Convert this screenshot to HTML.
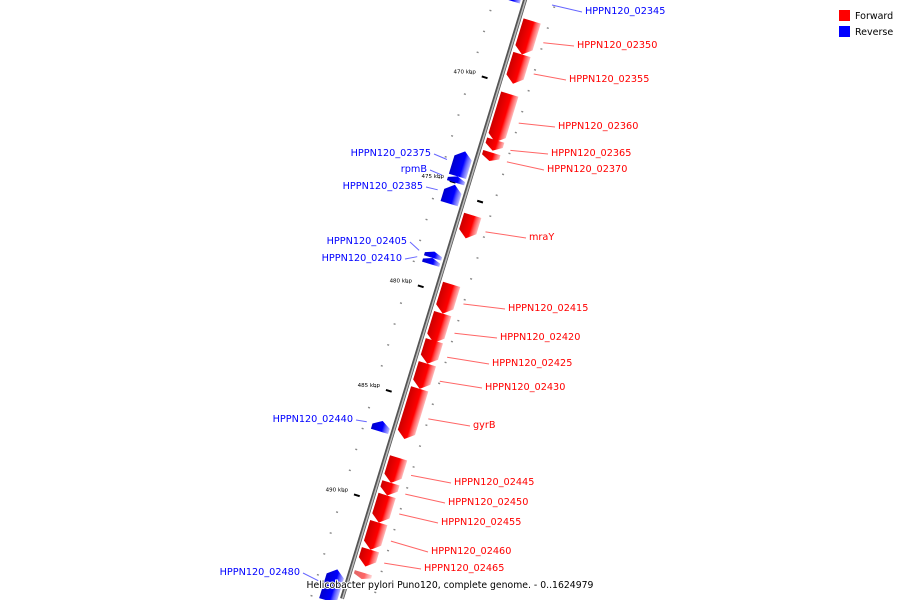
<!DOCTYPE html>
<html><head><meta charset="utf-8"><style>
html,body{margin:0;padding:0;background:#fff;overflow:hidden;}
svg{display:block;font-family:"DejaVu Sans","Liberation Sans",sans-serif;}
</style></head><body>
<svg id="map" width="900" height="600" viewBox="0 0 900 600" xmlns="http://www.w3.org/2000/svg">
<defs>
<linearGradient id="gf" x1="0" x2="1" y1="0" y2="0"><stop offset="0" stop-color="#c00"/><stop offset="0.6" stop-color="#f00"/><stop offset="0.75" stop-color="#f55"/><stop offset="1" stop-color="#fbb"/></linearGradient>
<linearGradient id="gr" x1="0" x2="1" y1="0" y2="0"><stop offset="0" stop-color="#00c"/><stop offset="0.6" stop-color="#00f"/><stop offset="0.75" stop-color="#55f"/><stop offset="1" stop-color="#bbf"/></linearGradient>
</defs>
<g id="rot" transform="translate(525,0) rotate(17)"></g>
<g id="over"></g>
<g>
<rect x="839" y="10" width="11" height="11" fill="#f00"/>
<text x="855" y="19" font-size="9.5" fill="#000">Forward</text>
<rect x="839" y="26" width="11" height="11" fill="#00f"/>
<text x="855" y="35" font-size="9.5" fill="#000">Reverse</text>
</g>
<text x="450" y="588" text-anchor="middle" font-size="9.3" fill="#000" style="paint-order:stroke" stroke="#fff" stroke-width="2">Helicobacter pylori Puno120, complete genome. - 0..1624979</text>
</svg>
<script>
// gene data (kbp)
const geneNames = ["HPPN120_02345","HPPN120_02350","HPPN120_02355","HPPN120_02360","HPPN120_02365","HPPN120_02370","HPPN120_02375","rpmB","HPPN120_02385","mraY","HPPN120_02405","HPPN120_02410","HPPN120_02415","HPPN120_02420","HPPN120_02425","HPPN120_02430","gyrB","HPPN120_02440","HPPN120_02445","HPPN120_02450","HPPN120_02455","HPPN120_02460","HPPN120_02465","","HPPN120_02480"];
const geneStrand = [-1,1,1,1,1,1,-1,-1,-1,1,-1,-1,1,1,1,1,1,-1,1,1,1,1,1,1,-1];
const geneStart = [465.8,466.9,468.5,470.4,472.6,473.2,473.5,474.7,475.1,476.2,478.3,478.6,479.5,480.9,482.2,483.3,484.5,486.4,487.8,489.0,489.6,490.9,492.2,493.3,493.5];
const geneEnd   = [466.3,468.5,469.9,472.7,473.1,473.6,474.7,475.0,476.0,477.3,478.6,478.9,480.9,482.3,483.3,484.5,486.9,486.9,489.0,489.6,490.9,492.2,493.0,493.6,495.0];
// label anchors
const labelX = [585,577,569,558,551,547,431,427,423,529,407,402,508,500,492,485,473,353,454,448,441,431,424,0,300];
const labelY = [10,44,78,125,152,168,152,168,185,236,240,257,307,336,362,386,424,418,481,501,521,550,567,0,571];
// tick data
const majorTicks = [470,475,480,485,490];
const ANG = 17*Math.PI/180, C=Math.cos(ANG), S=Math.sin(ANG);
const ns="http://www.w3.org/2000/svg";
const rot=document.getElementById('rot'), over=document.getElementById('over');
function yOf(k){return 82+(k-470)*20.9;}
function sOf(k){return yOf(k)/C;}
function toScreen(u,s){return [525+u*C-s*S, u*S+s*C];}
function mk(tag,attrs,parent){const e=document.createElementNS(ns,tag);for(const k in attrs)e.setAttribute(k,attrs[k]);parent.appendChild(e);return e;}
let bb=mk('line',{x1:0,y1:-10,x2:0,y2:626,stroke:'#555','stroke-width':4},rot);


let bb2=mk('line',{x1:0.5,y1:-10,x2:0.5,y2:626,stroke:'#bbb','stroke-width':1.5},rot);


for(let k=464;k<=495;k++){
  [-30,30].forEach(u=>{
    const d=mk('rect',{x:u-1,y:sOf(k)-0.7,width:2,height:1.4,fill:'#888'},rot);
    
    
  });
}
majorTicks.forEach(k=>{
  const t=mk('rect',{x:-19,y:sOf(k)-1,width:6,height:2,fill:'#000'},rot);
  
  
  const t2=mk('rect',{x:13,y:sOf(k+0.5)-1,width:6,height:2,fill:'#000'},rot);
  
  
  const p=toScreen(-22,sOf(k));
  const tx=mk('text',{x:p[0]-3,y:p[1]-2,'font-size':5.5,'text-anchor':'end',fill:'#000'},over);
  tx.textContent=k+' kbp';
  
  
});
geneNames.forEach((n,i)=>{
  const st=geneStrand[i], s0=sOf(geneStart[i]), s1=sOf(geneEnd[i]);
  const h=Math.min(7,(s1-s0)*0.5);
  let pts;
  if(st>0){pts=[[4,s0],[22,s0],[22,s1-h],[13,s1],[4,s1-h]];}
  else{pts=[[-22,s0+h],[-13,s0],[-4,s0+h],[-4,s1],[-22,s1]];}
  const faded = n==="";
  const g=mk('polygon',{points:pts.map(p=>p.join(',')).join(' '),fill:st>0?'url(#gf)':'url(#gr)',opacity:faded?0.6:1},rot);
  
  
  if(!n) return;
  const mid=(s0+s1)/2;
  const col=st>0?'#f00':'#00f';
  const lc=st>0?'#f66':'#66f';
  let gp, lx=labelX[i], ly=labelY[i];
  if(st>0 || i===0){
    gp=toScreen(st>0?30:0,mid);
    if(i===0) gp=[552,5];
    const ln=mk('line',{x1:gp[0],y1:gp[1],x2:lx-3,y2:ly+2,stroke:lc,'stroke-width':1},over);
    
    
    const t=mk('text',{x:lx,y:ly+4,'font-size':9.7,fill:col},over);
    t.textContent=n;
    
    
  } else {
    gp=toScreen(-28,mid);
    const ln=mk('line',{x1:gp[0],y1:gp[1],x2:lx+3,y2:ly+2,stroke:lc,'stroke-width':1},over);
    
    
    const t=mk('text',{x:lx,y:ly+4,'font-size':9.7,fill:col,'text-anchor':'end'},over);
    t.textContent=n;
    
    
  }
});
</script>
</body></html>
